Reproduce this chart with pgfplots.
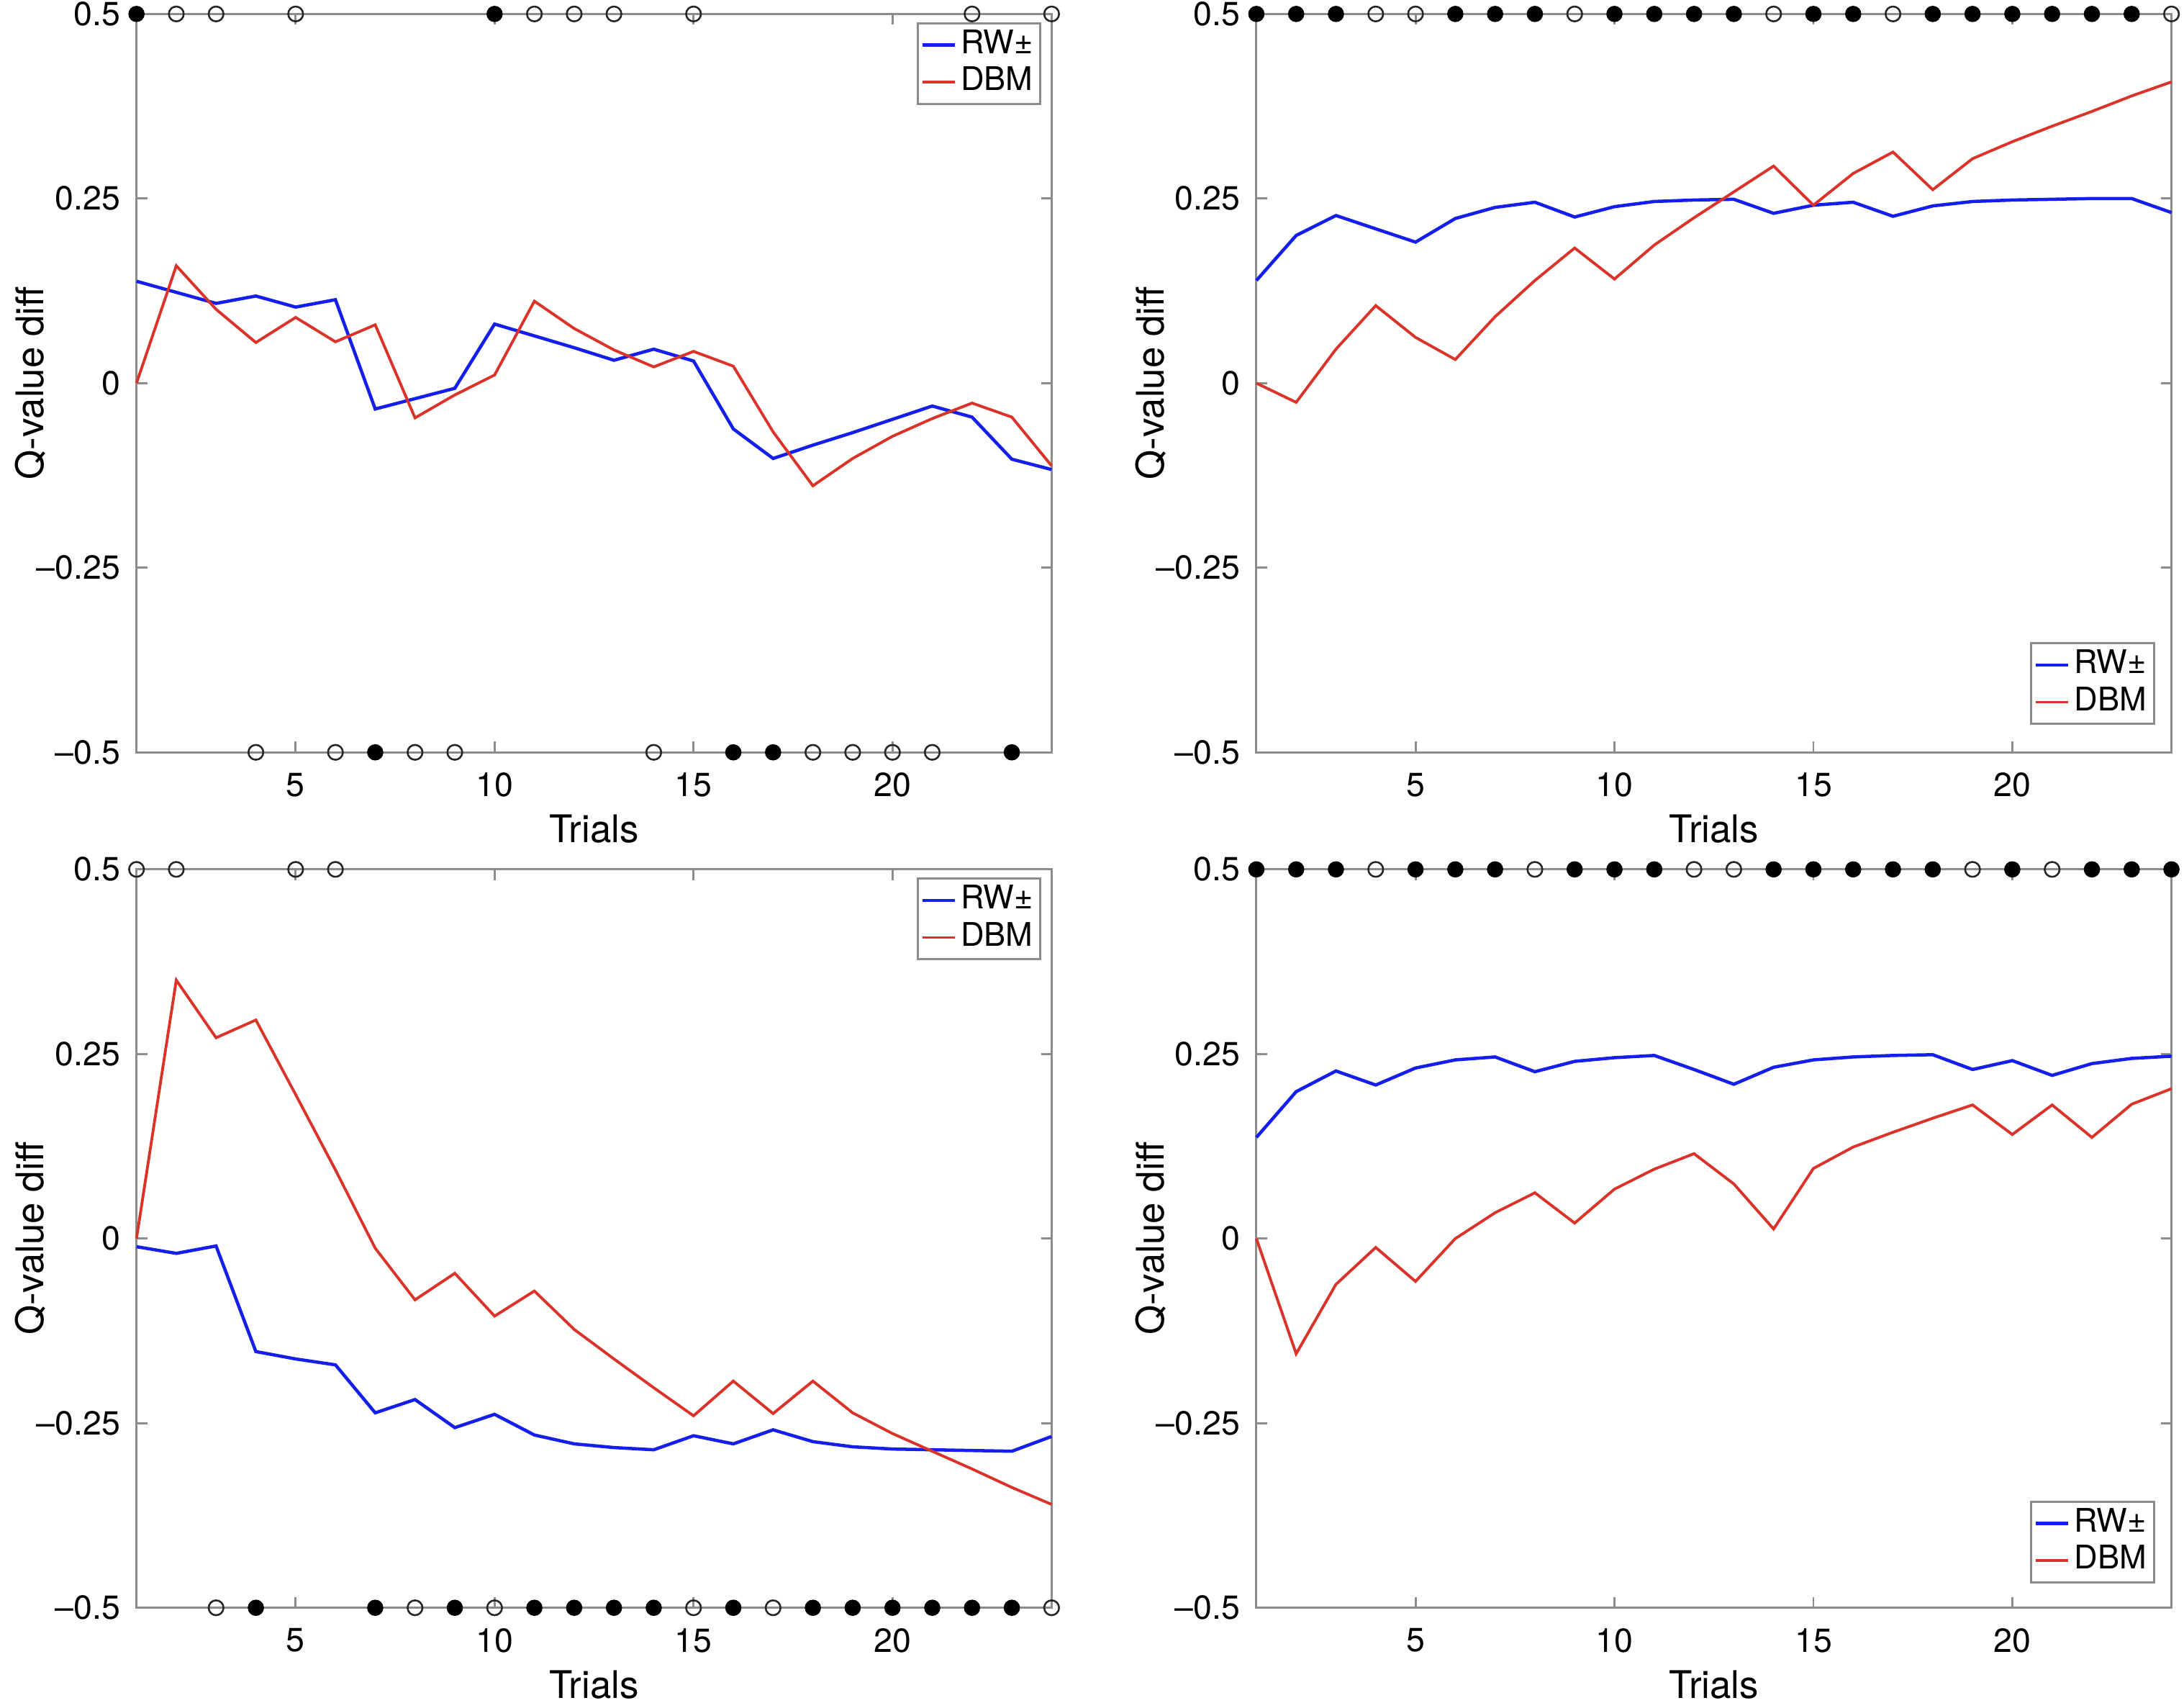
\documentclass[border=0pt]{standalone}
\usepackage{pgfplots}
\usepackage{pgfplotstable}
\pgfplotsset{compat=1.18}
\usepackage{fontspec}
\setmainfont{TeX Gyre Heros}
\definecolor{mblue}{rgb}{0.08,0.12,0.92}
\definecolor{mred}{rgb}{0.86,0.2,0.16}
\definecolor{axgray}{gray}{0.55}

\pgfplotstableread{
t blue red
1 0.138 0
2 0.123 0.159
3 0.108 0.100
4 0.118 0.055
5 0.103 0.089
6 0.113 0.056
7 -0.035 0.079
8 -0.021 -0.047
9 -0.007 -0.016
10 0.080 0.011
11 0.064 0.111
12 0.048 0.074
13 0.031 0.045
14 0.046 0.022
15 0.030 0.043
16 -0.062 0.023
17 -0.102 -0.066
18 -0.084 -0.139
19 -0.067 -0.102
20 -0.049 -0.072
21 -0.031 -0.048
22 -0.046 -0.027
23 -0.103 -0.046
24 -0.117 -0.112
}\tA

\pgfplotstableread{
t blue red
1 0.139 0
2 0.200 -0.026
3 0.227 0.046
4 0.209 0.105
5 0.191 0.062
6 0.223 0.032
7 0.238 0.090
8 0.245 0.139
9 0.225 0.183
10 0.239 0.141
11 0.246 0.187
12 0.248 0.224
13 0.249 0.259
14 0.230 0.294
15 0.241 0.241
16 0.245 0.284
17 0.226 0.313
18 0.240 0.262
19 0.246 0.304
20 0.248 0.327
21 0.249 0.348
22 0.250 0.368
23 0.250 0.389
24 0.231 0.408
}\tB

\pgfplotstableread{
t blue red
1 -0.011 0
2 -0.020 0.350
3 -0.010 0.272
4 -0.153 0.296
5 -0.163 0.195
6 -0.171 0.093
7 -0.236 -0.013
8 -0.218 -0.083
9 -0.256 -0.047
10 -0.238 -0.105
11 -0.266 -0.071
12 -0.278 -0.123
13 -0.283 -0.163
14 -0.286 -0.202
15 -0.267 -0.240
16 -0.278 -0.193
17 -0.259 -0.237
18 -0.275 -0.193
19 -0.282 -0.236
20 -0.285 -0.264
21 -0.286 -0.288
22 -0.287 -0.312
23 -0.288 -0.337
24 -0.268 -0.360
}\tC

\pgfplotstableread{
t blue red
1 0.137 0
2 0.199 -0.156
3 0.227 -0.062
4 0.208 -0.012
5 0.231 -0.058
6 0.242 0.000
7 0.246 0.035
8 0.226 0.062
9 0.240 0.021
10 0.245 0.067
11 0.248 0.094
12 0.229 0.115
13 0.209 0.074
14 0.232 0.013
15 0.242 0.095
16 0.246 0.124
17 0.248 0.144
18 0.249 0.163
19 0.229 0.181
20 0.241 0.141
21 0.221 0.181
22 0.237 0.137
23 0.244 0.182
24 0.247 0.203
}\tD

\pgfplotsset{
  qstyle/.style={
    scale only axis, width=197.1pt, height=159pt,
    xmin=1, xmax=24, ymin=-0.5, ymax=0.5,
    xtick={5,10,15,20}, xticklabels={5,10,15,20},
    ytick={-0.5,-0.25,0,0.25,0.5},
    yticklabels={\textendash0.5,\textendash0.25,0,0.25,0.5},
    tick align=inside, tick pos=both,
    major tick length=2.3pt,
    axis line style={axgray, line width=0.45pt},
    every tick/.style={axgray, line width=0.45pt},
    ticklabel style={font=\fontsize{7.2}{8}\selectfont, black},
    xticklabel style={yshift=-0.9pt},
    label style={font=\fontsize{8.2}{9}\selectfont},
    xlabel={Trials}, ylabel={Q-value diff},
    xlabel style={at={(axis description cs:0.5,-0.1038)}, anchor=center},
    ylabel style={at={(axis description cs:-0.1157,0.5)}, anchor=center},
    clip=false,
    legend style={draw=axgray, line width=0.45pt, font=\fontsize{7}{8}\selectfont,
      inner sep=0.7pt, row sep=0pt, column sep=0pt,
      nodes={inner xsep=0.9pt, inner ysep=0.7pt},
      cells={anchor=west}},
    legend image code/.code={\draw[##1] (0pt,0pt) -- (7pt,0pt);},
  },
  fillmark/.style={only marks, mark=*, mark size=1.6pt, mark options={fill=black, draw=black, line width=0.3pt}},
  openmark/.style={only marks, mark=o, mark size=1.6pt, mark options={draw=black!85, line width=0.4pt}},
  blueline/.style={mblue, line width=0.7pt, mark=none},
  redline/.style={mred, line width=0.6pt, mark=none},
}

\begin{document}
\begin{tikzpicture}
\path[use as bounding box] (0,0) rectangle (470.4pt,-366.6pt);

% Panel 1
\begin{axis}[qstyle, at={(29.4pt,-162pt)}, anchor=south west,
  legend style={at={(0.989,0.989)}, anchor=north east}]
\addplot[blueline] table[x=t,y=blue] {\tA};
\addlegendentry{RW±}
\addplot[redline] table[x=t,y=red] {\tA};
\addlegendentry{DBM}
\addplot[fillmark, forget plot] coordinates {(1,0.5) (10,0.5) (7,-0.5) (16,-0.5) (17,-0.5) (23,-0.5)};
\addplot[openmark, forget plot] coordinates {(2,0.5) (3,0.5) (5,0.5) (11,0.5) (12,0.5) (13,0.5) (15,0.5) (22,0.5) (24,0.5)
  (4,-0.5) (6,-0.5) (8,-0.5) (9,-0.5) (14,-0.5) (18,-0.5) (19,-0.5) (20,-0.5) (21,-0.5)};
\end{axis}

% Panel 2
\begin{axis}[qstyle, at={(270.6pt,-162pt)}, anchor=south west,
  legend style={at={(0.982,0.037)}, anchor=south east}]
\addplot[blueline] table[x=t,y=blue] {\tB};
\addlegendentry{RW±}
\addplot[redline] table[x=t,y=red] {\tB};
\addlegendentry{DBM}
\addplot[fillmark, forget plot] coordinates {(1,0.5) (2,0.5) (3,0.5) (6,0.5) (7,0.5) (8,0.5) (10,0.5) (11,0.5) (12,0.5) (13,0.5) (15,0.5) (16,0.5) (18,0.5) (19,0.5) (20,0.5) (21,0.5) (22,0.5) (23,0.5)};
\addplot[openmark, forget plot] coordinates {(4,0.5) (5,0.5) (9,0.5) (14,0.5) (17,0.5) (24,0.5)};
\end{axis}

% Panel 3
\begin{axis}[qstyle, at={(29.4pt,-346.2pt)}, anchor=south west,
  legend style={at={(0.989,0.989)}, anchor=north east}]
\addplot[blueline] table[x=t,y=blue] {\tC};
\addlegendentry{RW±}
\addplot[redline] table[x=t,y=red] {\tC};
\addlegendentry{DBM}
\addplot[fillmark, forget plot] coordinates {(4,-0.5) (7,-0.5) (9,-0.5) (11,-0.5) (12,-0.5) (13,-0.5) (14,-0.5) (16,-0.5) (18,-0.5) (19,-0.5) (20,-0.5) (21,-0.5) (22,-0.5) (23,-0.5)};
\addplot[openmark, forget plot] coordinates {(1,0.5) (2,0.5) (5,0.5) (6,0.5) (3,-0.5) (8,-0.5) (10,-0.5) (15,-0.5) (17,-0.5) (24,-0.5)};
\end{axis}

% Panel 4
\begin{axis}[qstyle, at={(270.6pt,-346.2pt)}, anchor=south west,
  legend style={at={(0.982,0.033)}, anchor=south east}]
\addplot[blueline] table[x=t,y=blue] {\tD};
\addlegendentry{RW±}
\addplot[redline] table[x=t,y=red] {\tD};
\addlegendentry{DBM}
\addplot[fillmark, forget plot] coordinates {(1,0.5) (2,0.5) (3,0.5) (5,0.5) (6,0.5) (7,0.5) (9,0.5) (10,0.5) (11,0.5) (14,0.5) (15,0.5) (16,0.5) (17,0.5) (18,0.5) (20,0.5) (22,0.5) (23,0.5) (24,0.5)};
\addplot[openmark, forget plot] coordinates {(4,0.5) (8,0.5) (12,0.5) (13,0.5) (19,0.5) (21,0.5)};
\end{axis}
\end{tikzpicture}
\end{document}
